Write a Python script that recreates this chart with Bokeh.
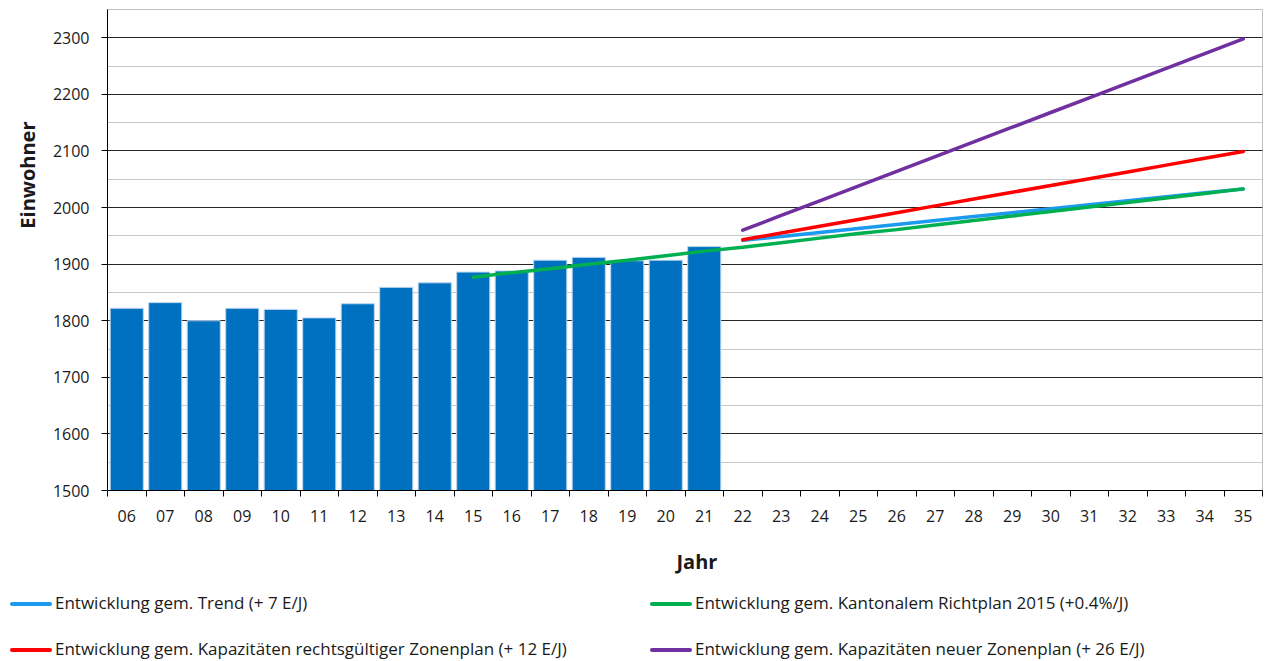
from bokeh.plotting import figure
from bokeh.layouts import column
from bokeh.models import (Range1d, FixedTicker, SingleIntervalTicker, Title, ColumnDataSource, Div)
from bokeh.embed import file_html
from bokeh.resources import INLINE

# ---------------- data ----------------
categories = ["06", "07", "08", "09", "10", "11", "12", "13", "14", "15", "16", "17", "18", "19", "20",
              "21", "22", "23", "24", "25", "26", "27", "28", "29", "30", "31", "32", "33", "34", "35"]

bar_years = ["06", "07", "08", "09", "10", "11", "12", "13", "14", "15", "16", "17", "18", "19", "20", "21"]
bar_values = [1822, 1832, 1800, 1822, 1820, 1805, 1830, 1859, 1867, 1886, 1888, 1907, 1912, 1906, 1907, 1931]

forecast_years = ["22", "23", "24", "25", "26", "27", "28", "29", "30", "31", "32", "33", "34", "35"]
trend_values = [1942, 1949, 1956, 1963, 1970, 1977, 1984, 1991, 1998, 2005, 2012, 2019, 2026, 2033]
zonenplan_values = [1943, 1955, 1967, 1979, 1991, 2003, 2015, 2027, 2039, 2051, 2063, 2075, 2087, 2099]
neuer_values = [1960, 1986, 2012, 2038, 2064, 2090, 2116, 2142, 2168, 2194, 2220, 2246, 2272, 2298]

kanton_years = ["15", "16", "17", "18", "19", "20", "21", "22", "23", "24", "25", "26", "27", "28", "29",
                "30", "31", "32", "33", "34", "35"]
kanton_values = [1877, 1885, 1892, 1900, 1907, 1915, 1923, 1930, 1938, 1946, 1954, 1961, 1969, 1977, 1985,
                 1993, 2001, 2009, 2017, 2025, 2033]

labels = ["Entwicklung gem. Trend (+ 7 E/J)",
          "Entwicklung gem. Kantonalem Richtplan 2015 (+0.4%/J)",
          "Entwicklung gem. Kapazitäten rechtsgültiger Zonenplan (+ 12 E/J)",
          "Entwicklung gem. Kapazitäten neuer Zonenplan (+ 26 E/J)"]
colors = ["#1B9AF0", "#00B050", "#FF0000", "#7030A0"]

y_label = "Einwohner"
x_label = "Jahr"

# ---------------- figure ----------------
FONT = "Open Sans"
TXT = "#1a1a1a"
idx = {c: i for i, c in enumerate(categories)}

p = figure(width=1266, height=604, output_backend="svg", toolbar_location=None,
           x_range=Range1d(-0.5, len(categories) - 0.5), y_range=Range1d(1500, 2350),
           min_border_left=107, min_border_right=4, min_border_top=9, min_border_bottom=114)
p.background_fill_color = "white"
p.border_fill_color = "white"
p.outline_line_color = "#BFBFBF"
p.outline_line_width = 1

# x axis
xa = p.xaxis[0]
xa.ticker = FixedTicker(ticks=list(range(len(categories))),
                        minor_ticks=[i - 0.5 for i in range(len(categories) + 1)])
xa.major_label_overrides = {i: c for i, c in enumerate(categories)}
xa.major_tick_line_color = None
xa.minor_tick_in = 0
xa.minor_tick_out = 6
xa.minor_tick_line_color = "black"
xa.axis_line_color = "black"
xa.major_label_text_font = FONT
xa.major_label_text_font_size = "16px"
xa.major_label_text_color = TXT
xa.major_label_standoff = 13

# y axis
ya = p.yaxis[0]
ya.ticker = SingleIntervalTicker(interval=100, num_minor_ticks=2)
ya.major_tick_in = 0
ya.major_tick_out = 6
ya.minor_tick_line_color = None
ya.axis_line_color = "black"
ya.major_label_text_font = FONT
ya.major_label_text_font_size = "16px"
ya.major_label_text_color = TXT
ya.major_label_standoff = 12

p.add_layout(Title(text=y_label, align="right", offset=112, text_font=FONT,
                   text_font_style="bold", text_font_size="20px", text_color=TXT,
                   standoff=18), "left")

p.add_layout(Title(text=x_label, align="left", offset=569, vertical_align="top",
                   text_font=FONT, text_font_style="bold", text_font_size="20px",
                   text_color=TXT, standoff=46), "below")

p.xgrid.grid_line_color = None
p.ygrid.grid_line_color = "#262626"
p.ygrid.grid_line_width = 1.2
p.ygrid.minor_grid_line_color = "#C8C8C8"
p.ygrid.minor_grid_line_width = 1

# bars
bar_src = ColumnDataSource(dict(x=[idx[c] for c in bar_years], top=bar_values))
p.vbar(x="x", top="top", bottom=1500, width=0.86, source=bar_src,
       fill_color="#0070C0", line_color="#BDD7EE", line_width=1)

# lines
def line(years, values, color):
    src = ColumnDataSource(dict(x=[idx[c] for c in years], y=values))
    return p.line(x="x", y="y", source=src, line_color=color, line_width=3.5, line_cap="round")

line(forecast_years, trend_values, colors[0])
line(forecast_years, zonenplan_values, colors[2])
line(forecast_years, neuer_values, colors[3])
line(kanton_years, kanton_values, colors[1])

# ---------------- legend (below the chart, 2 columns) ----------------
parts = []
for i, (lab, col) in enumerate(zip(labels, colors)):
    left = 10 + (i % 2) * 640
    top = (i // 2) * 46
    parts.append(
        f'<div style="position:absolute;left:{left}px;top:{top}px;height:18px;line-height:18px;'
        f'white-space:nowrap;">'
        f'<span style="display:inline-block;width:42px;height:4px;border-radius:2px;background:{col};'
        f'vertical-align:middle;margin-right:3px;"></span>{lab}</div>')
html = (f'<div style="position:relative;width:1266px;height:67px;font-family:\'{FONT}\';'
        f'font-size:17px;color:{TXT};">' + "".join(parts) + '</div>')
legend_div = Div(text=html, width=1266, height=67, margin=(-10, 0, 0, 0))

layout = column(p, legend_div, spacing=0)
open("out.html", "w").write(file_html(layout, INLINE))
